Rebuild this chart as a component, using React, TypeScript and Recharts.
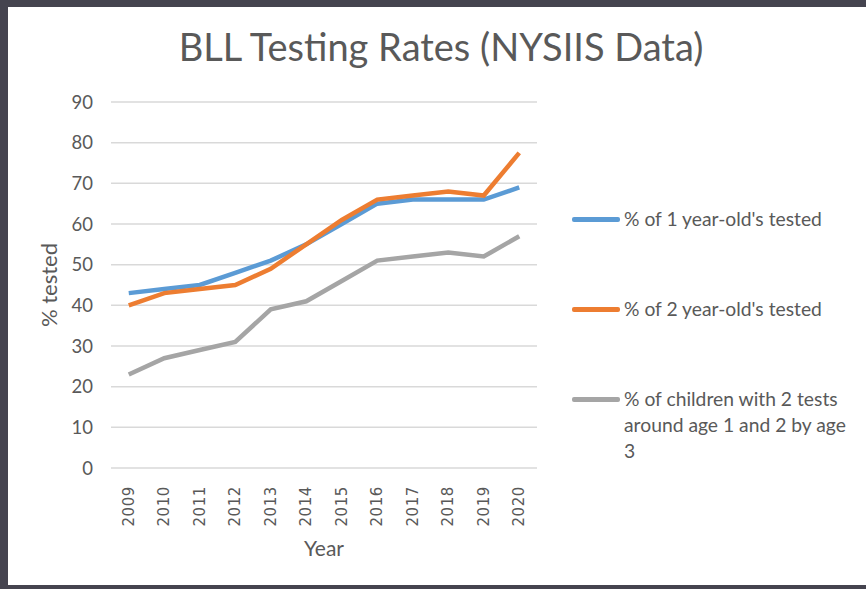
import React from 'react'
import { LineChart, Line, XAxis, YAxis, CartesianGrid, Legend, Label } from 'recharts'

const years = ['2009', '2010', '2011', '2012', '2013', '2014', '2015', '2016', '2017', '2018', '2019', '2020']
const oneYearOld = [43, 44, 45, 48, 51, 55, 60, 65, 66, 66, 66, 69]
const twoYearOld = [40, 43, 44, 45, 49, 55, 61, 66, 67, 68, 67, 77.5]
const twoTests = [23, 27, 29, 31, 39, 41, 46, 51, 52, 53, 52, 57]
const yTicks = [0, 10, 20, 30, 40, 50, 60, 70, 80, 90]

const seriesNames = [
  "% of 1 year-old's tested",
  "% of 2 year-old's tested",
  '% of children with 2 tests around age 1 and 2 by age 3',
]

const data = years.map((year, i) => ({
  year,
  one: oneYearOld[i],
  two: twoYearOld[i],
  both: twoTests[i],
}))

const TEXT = '#595959'
const FONT = 'Lato, "Open Sans", sans-serif'

function YearTick({ x, y, payload }: any) {
  return (
    <text
      x={0}
      y={0}
      transform={`translate(${x},${y + 10}) rotate(-90)`}
      textAnchor="end"
      dominantBaseline="central"
      fontFamily='"DejaVu Sans", sans-serif'
      fontSize={15}
      letterSpacing={0.6}
      fill={TEXT}
    >
      {payload.value}
    </text>
  )
}

function LegendBox({ payload }: any) {
  return (
    <div style={{ fontFamily: FONT, fontSize: 19.3, color: TEXT, lineHeight: '26px' }}>
      {(payload || []).map((entry: any, i: number) => (
        <div key={i} style={{ display: 'flex', alignItems: 'flex-start', marginBottom: 64 }}>
          <div
            style={{
              width: 48,
              height: 4.5,
              borderRadius: 2,
              background: entry.color,
              marginTop: 11,
              marginRight: 4,
              flexShrink: 0,
            }}
          />
          <div style={{ width: 228 }}>{entry.value}</div>
        </div>
      ))}
    </div>
  )
}

export default function App() {
  return (
    <div
      style={{
        position: 'absolute',
        left: 0,
        top: 0,
        width: 866,
        height: 589,
        boxSizing: 'border-box',
        borderTop: '7px solid #45444f',
        borderLeft: '8px solid #45444f',
        borderBottom: '4px solid #45444f',
        background: '#fff',
      }}
    >
      <div style={{ position: 'absolute', left: -8, top: -7 }}>
        <LineChart
          width={866}
          height={589}
          data={data}
          margin={{ top: 102, right: 329, bottom: 0, left: 0 }}
        >
          <CartesianGrid vertical={false} stroke="#d9d9d9" strokeWidth={1.5} />
          <XAxis
            dataKey="year"
            height={121}
            axisLine={false}
            tickLine={false}
            tick={<YearTick />}
            interval={0}
            padding={{ left: 17.75, right: 17.75 }}
          >
            <Label
              content={({ viewBox }: any) => (
                <text
                  x={viewBox.x + viewBox.width / 2}
                  y={547}
                  textAnchor="middle"
                  dominantBaseline="central"
                  fontFamily={FONT}
                  fontSize={21}
                  fill={TEXT}
                >
                  Year
                </text>
              )}
            />
          </XAxis>
          <YAxis
            width={111}
            domain={[0, 90]}
            ticks={yTicks}
            axisLine={false}
            tickLine={false}
            tickSize={0}
            tickMargin={18}
            tick={{ fontFamily: FONT, fontSize: 18.5, fill: TEXT }}
          >
            <Label
              content={({ viewBox }: any) => (
                <text
                  x={0}
                  y={0}
                  transform={`translate(48,${viewBox.y + viewBox.height / 2}) rotate(-90)`}
                  textAnchor="middle"
                  dominantBaseline="central"
                  fontFamily={FONT}
                  fontSize={22}
                  fill={TEXT}
                >
                  % tested
                </text>
              )}
            />
          </YAxis>
          <Legend
            layout="vertical"
            align="center"
            verticalAlign="middle"
            wrapperStyle={{ left: 572, top: 206, width: 290 }}
            content={<LegendBox />}
          />
          <Line
            dataKey="one"
            name={seriesNames[0]}
            stroke="#5B9BD5"
            strokeWidth={4.5}
            dot={false}
            isAnimationActive={false}
          />
          <Line
            dataKey="two"
            name={seriesNames[1]}
            stroke="#ED7D31"
            strokeWidth={4.5}
            dot={false}
            isAnimationActive={false}
          />
          <Line
            dataKey="both"
            name={seriesNames[2]}
            stroke="#A5A5A5"
            strokeWidth={4.5}
            dot={false}
            isAnimationActive={false}
          />
        </LineChart>
      </div>
      <div
        style={{
          position: 'absolute',
          left: -8,
          top: 14,
          width: 882,
          textAlign: 'center',
          fontFamily: FONT,
          fontSize: 38,
          color: TEXT,
          lineHeight: '50px',
        }}
      >
        BLL Testing Rates (NYSIIS Data)
      </div>
    </div>
  )
}
